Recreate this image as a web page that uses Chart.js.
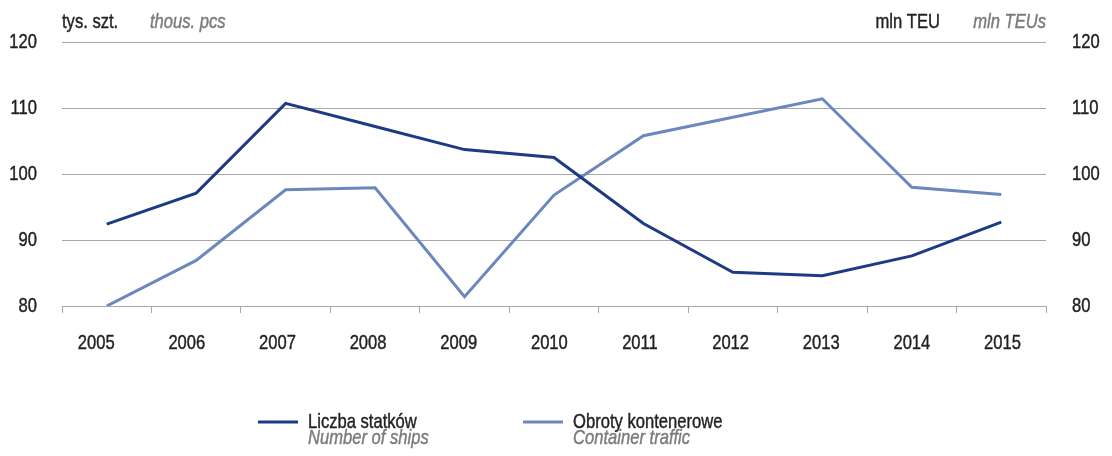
<!DOCTYPE html>
<html>
<head>
<meta charset="utf-8">
<script src="https://cdn.jsdelivr.net/npm/chart.js@4/dist/chart.umd.min.js"></script>
<style>
  html, body { margin: 0; padding: 0; background: #ffffff; }
  #wrap { width: 1112px; height: 456px; position: relative; }
</style>
</head>
<body>
<div id="wrap"><canvas id="chart" width="1112" height="456"></canvas></div>
<script>
// Categories and series
const years = ['2005', '2006', '2007', '2008', '2009', '2010', '2011', '2012', '2013', '2014', '2015'];
const ships = [92.4, 97.1, 110.7, 107.2, 103.7, 102.5, 92.5, 85.1, 84.6, 87.6, 92.7];       // tys. szt.
const containers = [80.0, 86.9, 97.6, 97.9, 81.4, 96.8, 105.8, 108.6, 111.4, 98.0, 96.9];  // mln TEU
const yTicks = [80, 90, 100, 110, 120];

const seriesNames = [
  ['Liczba statków', 'Number of ships'],
  ['Obroty kontenerowe', 'Container traffic']
];
const unitLeft = ['tys. szt.', 'thous. pcs'];
const unitRight = ['mln TEU', 'mln TEUs'];

const FONT = '"Liberation Sans", Arial, sans-serif';
const FONT_SIZE = 21;
const CONDENSE = 0.79;   // horizontal squeeze giving a condensed face
const DARK = '#1d3a85';
const LIGHT = '#6a88bd';
const TEXT = '#231f20';
const GREY_TEXT = '#7b7b7b';
const GRID = '#a8a8a8';

Chart.defaults.font.family = FONT;
Chart.defaults.font.size = FONT_SIZE;
Chart.defaults.color = TEXT;

// Draw every piece of text horizontally condensed, with a slightly heavier stroke
const condensedText = {
  id: 'condensedText',
  beforeInit(chart) {
    const ctx = chart.ctx;
    const fill = ctx.fillText.bind(ctx);
    const stroke = ctx.strokeText.bind(ctx);
    const measure = ctx.measureText.bind(ctx);
    ctx.fillText = function (text, x, y) {
      ctx.save();
      ctx.translate(x, y);
      ctx.scale(CONDENSE, 1);
      fill(text, 0, 0);
      ctx.strokeStyle = ctx.fillStyle;
      ctx.lineWidth = 0.45;
      ctx.lineJoin = 'round';
      stroke(text, 0, 0);
      ctx.restore();
    };
    ctx.measureText = function (text) {
      const m = measure(text);
      return {
        width: m.width * CONDENSE,
        actualBoundingBoxAscent: m.actualBoundingBoxAscent,
        actualBoundingBoxDescent: m.actualBoundingBoxDescent
      };
    };
  }
};

// Unit captions above the axes and the two-line legend below the plot
const captions = {
  id: 'captions',
  afterDraw(chart) {
    const ctx = chart.ctx;
    const area = chart.chartArea;
    const regular = FONT_SIZE + 'px ' + FONT;
    const italic = 'italic ' + FONT_SIZE + 'px ' + FONT;
    ctx.save();
    ctx.textBaseline = 'alphabetic';

    ctx.textAlign = 'left';
    ctx.font = regular;
    ctx.fillStyle = TEXT;
    ctx.fillText(unitLeft[0], area.left, 28);
    ctx.font = italic;
    ctx.fillStyle = GREY_TEXT;
    ctx.fillText(unitLeft[1], 150, 28);

    ctx.textAlign = 'right';
    ctx.fillText(unitRight[1], area.right, 28);
    ctx.font = regular;
    ctx.fillStyle = TEXT;
    ctx.fillText(unitRight[0], 940, 28);

    const itemX = [258, 523];
    chart.data.datasets.forEach((ds, i) => {
      const x0 = itemX[i];
      ctx.strokeStyle = ds.borderColor;
      ctx.lineWidth = 3;
      ctx.beginPath();
      ctx.moveTo(x0, 422);
      ctx.lineTo(x0 + 40, 422);
      ctx.stroke();
      ctx.textAlign = 'left';
      ctx.font = regular;
      ctx.fillStyle = TEXT;
      ctx.fillText(seriesNames[i][0], x0 + 50, 427.5);
      ctx.font = italic;
      ctx.fillStyle = GREY_TEXT;
      ctx.fillText(seriesNames[i][1], x0 + 50, 444);
    });
    ctx.restore();
  }
};

new Chart(document.getElementById('chart'), {
  type: 'line',
  data: {
    labels: years,
    datasets: [
      {
        label: seriesNames[0][0],
        data: ships,
        yAxisID: 'y',
        borderColor: DARK,
        backgroundColor: DARK,
        borderWidth: 3,
        pointRadius: 0,
        tension: 0,
        fill: false
      },
      {
        label: seriesNames[1][0],
        data: containers,
        yAxisID: 'y2',
        borderColor: LIGHT,
        backgroundColor: LIGHT,
        borderWidth: 3,
        pointRadius: 0,
        tension: 0,
        fill: false
      }
    ]
  },
  options: {
    responsive: false,
    animation: false,
    events: [],
    layout: { padding: { top: 42, left: 0, right: 0, bottom: 0 } },
    plugins: {
      legend: { display: false },
      tooltip: { enabled: false }
    },
    scales: {
      x: {
        type: 'category',
        position: 'bottom',
        weight: 0,
        offset: true,
        grid: {
          offset: true,
          drawOnChartArea: false,
          drawTicks: true,
          tickLength: 7,
          color: GRID,
          lineWidth: 1
        },
        border: { display: true, color: GRID, width: 1 },
        ticks: { display: false },
        afterFit(scale) { scale.height = 7; }
      },
      years: {
        type: 'linear',
        position: 'bottom',
        weight: 1,
        min: -0.3775,
        max: 10.48,
        afterBuildTicks(scale) { scale.ticks = years.map((_, i) => ({ value: i })); },
        grid: { display: false, drawTicks: false },
        border: { display: false },
        ticks: {
          autoSkip: false,
          maxRotation: 0,
          padding: 18,
          color: TEXT,
          callback: (v) => years[v]
        },
        afterFit(scale) { scale.height = 143; }
      },
      y: {
        type: 'linear',
        position: 'left',
        min: 80,
        max: 120,
        afterBuildTicks(scale) { scale.ticks = yTicks.map(v => ({ value: v })); },
        grid: { color: GRID, lineWidth: 1, drawTicks: false },
        border: { display: false },
        ticks: { padding: 25, color: TEXT },
        afterFit(scale) { scale.width = 62; }
      },
      y2: {
        type: 'linear',
        position: 'right',
        min: 80,
        max: 120,
        afterBuildTicks(scale) { scale.ticks = yTicks.map(v => ({ value: v })); },
        grid: { display: false, drawTicks: false },
        border: { display: false },
        ticks: { padding: 26, color: TEXT },
        afterFit(scale) { scale.width = 66; }
      }
    }
  },
  plugins: [condensedText, captions]
});
</script>
</body>
</html>
